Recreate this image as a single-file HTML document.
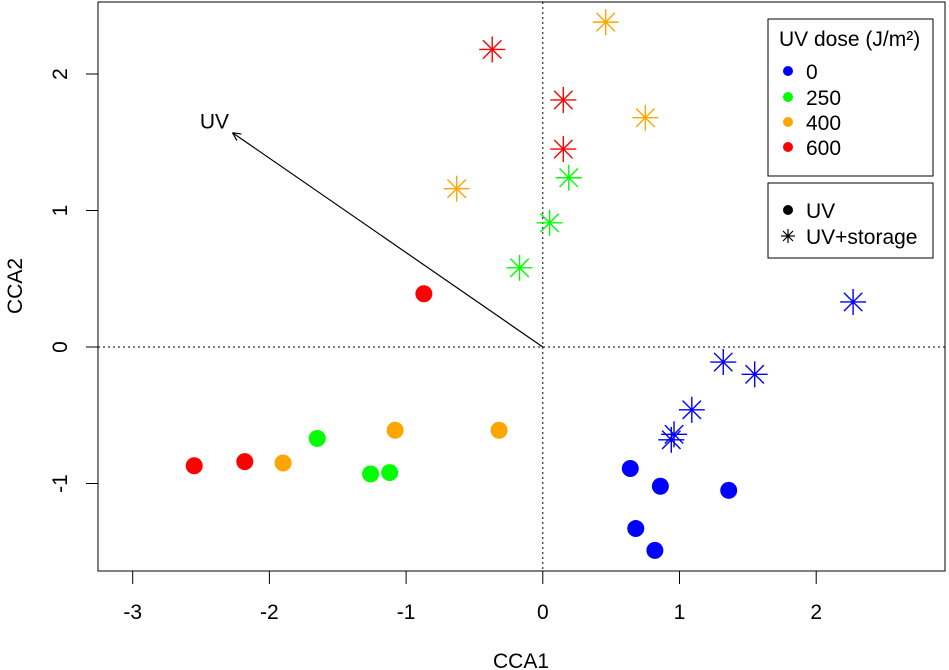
<!DOCTYPE html>
<html><head><meta charset="utf-8"><style>
body{margin:0;background:#fff;}
svg{display:block;font-family:"Liberation Sans",Arial,sans-serif;}
</style></head><body>
<svg id="chart" width="949" height="670" viewBox="0 0 949 670">
<rect x="98" y="2" width="847" height="569" fill="none" stroke="#000" stroke-width="1"/>
<g id="axes"></g>
<g id="marks"></g>
<text x="521" y="668" font-size="21" text-anchor="middle">CCA1</text>
<text x="0" y="0" font-size="21" text-anchor="middle" transform="translate(22,286) rotate(-90)">CCA2</text>
<g>
<rect x="768" y="19" width="165" height="157" fill="#fff" stroke="#000"/>
<text x="779" y="46" font-size="21">UV dose (J/m²)</text>
<circle cx="788" cy="71" r="5" fill="#0000ff"/><text x="806" y="79" font-size="21">0</text>
<circle cx="788" cy="97" r="5" fill="#00ff00"/><text x="806" y="105" font-size="21">250</text>
<circle cx="788" cy="122" r="5" fill="#ffa500"/><text x="806" y="130" font-size="21">400</text>
<circle cx="788" cy="147" r="5" fill="#ff0000"/><text x="806" y="155" font-size="21">600</text>
</g>
<g>
<rect x="768" y="183" width="165" height="75" fill="#fff" stroke="#000"/>
<circle cx="788" cy="210" r="5" fill="#000"/><text x="806" y="218" font-size="21">UV</text>
<g stroke="#000" stroke-width="1.2"><line x1="781" y1="236" x2="795" y2="236"/><line x1="788" y1="229" x2="788" y2="243"/><line x1="783" y1="231" x2="793" y2="241"/><line x1="783" y1="241" x2="793" y2="231"/></g>
<text x="806" y="244" font-size="21">UV+storage</text>
</g>
<script>
const xTicks=[-3,-2,-1,0,1,2];
const yTicks=[-1,0,1,2];
const uvX=[0.64,0.86,1.36,0.68,0.82,-1.65,-1.26,-1.12,-1.90,-1.08,-0.32,-2.55,-2.18,-0.87];
const uvY=[-0.89,-1.02,-1.05,-1.33,-1.49,-0.67,-0.93,-0.92,-0.85,-0.61,-0.61,-0.87,-0.84,0.39];
const uvDose=[0,0,0,0,0,250,250,250,400,400,400,600,600,600];
const stX=[2.27,1.32,1.55,1.09,0.96,0.94,0.19,0.05,-0.17,0.46,0.75,-0.63,-0.37,0.15,0.15];
const stY=[0.33,-0.11,-0.20,-0.46,-0.64,-0.68,1.24,0.91,0.58,2.38,1.68,1.16,2.18,1.81,1.45];
const stDose=[0,0,0,0,0,0,250,250,250,400,400,400,600,600,600];
const arrowX=[-2.27];
const arrowY=[1.57];
const colors={0:"#0000ff",250:"#00ff00",400:"#ffa500",600:"#ff0000"};
const X=v=>542.8+v*136.7, Y=v=>347-v*136.5;
const NS="http://www.w3.org/2000/svg";
function mk(tag,attrs,parent){const e=document.createElementNS(NS,tag);for(const k in attrs)e.setAttribute(k,attrs[k]);parent.appendChild(e);return e;}
const axes=document.getElementById('axes'), marks=document.getElementById('marks');
xTicks.forEach(t=>{
 const l=mk('line',{x1:X(t),x2:X(t),y1:571,y2:584,stroke:'#000'},axes);
 
 
 const tx=mk('text',{x:X(t),y:619,'font-size':21,'text-anchor':'middle'},axes);tx.textContent=t;
 
 
});
yTicks.forEach(t=>{
 const l=mk('line',{x1:86,x2:98,y1:Y(t),y2:Y(t),stroke:'#000'},axes);
 
 
 const tx=mk('text',{x:0,y:0,'font-size':21,'text-anchor':'middle',transform:`translate(67,${Y(t)}) rotate(-90)`},axes);tx.textContent=t;
 
 
});
const h=mk('line',{x1:98,x2:945,y1:Y(0),y2:Y(0),stroke:'#000','stroke-dasharray':'2,3'},axes);


const v=mk('line',{x1:X(0),x2:X(0),y1:2,y2:571,stroke:'#000','stroke-dasharray':'2,3'},axes);


const ax=X(arrowX[0]), ay=Y(arrowY[0]), ox=X(0), oy=Y(0);
const ang=Math.atan2(ay-oy,ax-ox);
const ar=mk('g',{stroke:'#000','stroke-width':1.2,fill:'none'},marks);


mk('line',{x1:ox,y1:oy,x2:ax,y2:ay},ar);
[0.45,-0.45].forEach(d=>mk('line',{x1:ax,y1:ay,x2:ax-9*Math.cos(ang+d),y2:ay-9*Math.sin(ang+d)},ar));
const lbl=mk('text',{x:ax-18,y:ay-4,'font-size':21,'text-anchor':'middle'},marks);lbl.textContent='UV';


uvX.forEach((x,i)=>{
 const c=mk('circle',{cx:X(x),cy:Y(uvY[i]),r:8.5,fill:colors[uvDose[i]]},marks);
 
 
});
stX.forEach((x,i)=>{
 const cx=X(x),cy=Y(stY[i]),s=13,d=9.2;
 const g=mk('g',{stroke:colors[stDose[i]],'stroke-width':1.4},marks);
 
 
 mk('line',{x1:cx-s,y1:cy,x2:cx+s,y2:cy},g);
 mk('line',{x1:cx,y1:cy-s,x2:cx,y2:cy+s},g);
 mk('line',{x1:cx-d,y1:cy-d,x2:cx+d,y2:cy+d},g);
 mk('line',{x1:cx-d,y1:cy+d,x2:cx+d,y2:cy-d},g);
});
</script>
</svg>
</body></html>
